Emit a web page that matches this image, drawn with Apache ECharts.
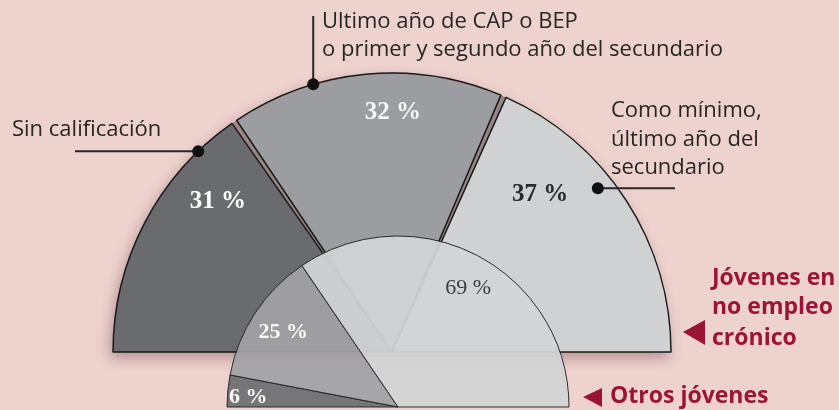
<!DOCTYPE html>
<html><head><meta charset="utf-8">
<script src="https://cdn.jsdelivr.net/npm/echarts@6/dist/echarts.min.js"></script>
<style>html,body{margin:0;padding:0;background:#eed2ce}#c{width:839px;height:410px}</style>
</head><body><div id="c"></div>
<script>
// ---- data ----
const categories = ['Sin calificación', 'Ultimo año de CAP o BEP o primer y segundo año del secundario', 'Como mínimo, último año del secundario'];
const chronicValues = [31, 32, 37];   // Jóvenes en no empleo crónico
const otherValues = [6, 25, 69];      // Otros jóvenes
const seriesNames = ['Jóvenes en no empleo crónico', 'Otros jóvenes'];
const legendLines = [['Jóvenes en', 'no empleo', 'crónico'], ['Otros jóvenes']];
const categoryLabelLines = [['Sin calificación'], ['Ultimo año de CAP o BEP', 'o primer y segundo año del secundario'], ['Como mínimo,', 'último año del', 'secundario']];

// ---- layout / style ----
const BG = '#eed2ce';
const OUT_C = [392, 352], OUT_R = 279;
const IN_C = [398, 407], IN_R = 171;
const outerColors = ['#6a6b6f', '#9c9da1', '#d0d1d3'];
const innerColors = ['#6e6f73', '#a1a2a5', '#d2d3d5'];
const outerLabelPolar = [[139.2, 230], [89.8, 239], [46.7, 216]];
const innerLabelPolar = [[176.2, 150], [146.9, 137], [59.5, 138]];
const outerLabelStyle = [
  {color: '#ffffff', fontWeight: 'bold', fontSize: 25},
  {color: '#f6f6f6', fontWeight: 'bold', fontSize: 25},
  {color: '#2a2a2a', fontWeight: 'bold', fontSize: 25}
];
const innerLabelStyle = [
  {color: '#ffffff', fontWeight: 'bold', fontSize: 22},
  {color: '#ffffff', fontWeight: 'bold', fontSize: 22},
  {color: '#333333', fontWeight: 'normal', fontSize: 22}
];
const PAD = 1.15;

function polar(c, deg, r) {
  const a = deg * Math.PI / 180;
  return [c[0] + r * Math.cos(a), c[1] - r * Math.sin(a)];
}

const chart = echarts.init(document.getElementById('c'), null, {renderer: 'canvas'});

const outerData = chronicValues.map((v, i) => ({
  name: categories[i], value: v,
  itemStyle: {color: outerColors[i]},
  label: Object.assign({}, outerLabelStyle[i])
}));
const innerData = otherValues.map((v, i) => ({
  name: categories[i], value: v,
  itemStyle: {color: innerColors[i]},
  label: Object.assign({}, innerLabelStyle[i])
}));

function labelLayoutFor(c, polarArr) {
  return function (p) {
    const pt = polar(c, polarArr[p.dataIndex][0], polarArr[p.dataIndex][1]);
    return {x: pt[0], y: pt[1], align: 'center', verticalAlign: 'middle'};
  };
}

// annotation dots (on outer arc, by angle)
const dotPolar = [[134, 279], [106.4, 279], [38.5, 263]];
const dots = dotPolar.map(d => polar(OUT_C, d[0], d[1]));

const ink = '#262626';
const sansFont = '"Open Sans", Lato, sans-serif';
const graphics = [];
// leader lines
graphics.push({type: 'line', shape: {x1: 75, y1: dots[0][1], x2: dots[0][0], y2: dots[0][1]}, style: {stroke: ink, lineWidth: 2}, z: 20});
graphics.push({type: 'line', shape: {x1: dots[1][0], y1: 16, x2: dots[1][0], y2: dots[1][1]}, style: {stroke: ink, lineWidth: 2}, z: 20});
graphics.push({type: 'line', shape: {x1: dots[2][0], y1: dots[2][1], x2: 675, y2: dots[2][1]}, style: {stroke: ink, lineWidth: 2}, z: 20});
dots.forEach(d => graphics.push({type: 'circle', shape: {cx: d[0], cy: d[1], r: 6}, style: {fill: '#111'}, z: 21}));
// category label texts
const catTextPos = [[12, [130]], [322, [22, 50]], [611, [111, 140, 168]]];
categoryLabelLines.forEach((lines, i) => {
  lines.forEach((t, j) => graphics.push({
    type: 'text', x: catTextPos[i][0], y: catTextPos[i][1][j], z: 22,
    style: {text: t, fill: ink, font: '22px ' + sansFont, textVerticalAlign: 'middle', textAlign: 'left'}
  }));
});
// legend
const legendRed = '#9a1438';
graphics.push({type: 'polygon', shape: {points: [[683, 332], [705, 320], [705, 345]]}, style: {fill: legendRed}, z: 22});
[278, 307, 338].forEach((y, j) => graphics.push({
  type: 'text', x: 712, y: y, z: 22,
  style: {text: legendLines[0][j], fill: legendRed, font: 'bold 23px ' + sansFont, textVerticalAlign: 'middle'}
}));
graphics.push({type: 'polygon', shape: {points: [[583, 397], [602, 388], [602, 407]]}, style: {fill: legendRed}, z: 22});
graphics.push({
  type: 'text', x: 610, y: 396, z: 22,
  style: {text: legendLines[1][0], fill: legendRed, font: 'bold 23px ' + sansFont, textVerticalAlign: 'middle'}
});

const option = {
  backgroundColor: BG,
  animation: false,
  textStyle: {fontFamily: '"Liberation Serif", "DejaVu Serif", serif'},
  graphic: graphics,
  series: [
    { // backdrop: brownish gap colour + drop shadow
      type: 'pie', silent: true, z: 1,
      center: OUT_C, radius: OUT_R, startAngle: 180, endAngle: 0,
      label: {show: false}, labelLine: {show: false},
      data: [{value: 1, itemStyle: {color: '#9a8585', shadowBlur: 14, shadowColor: 'rgba(60,20,20,0.35)', shadowOffsetX: -3, shadowOffsetY: 6}}]
    },
    {
      name: seriesNames[0], type: 'pie', z: 2,
      center: OUT_C, radius: OUT_R,
      startAngle: 180 + PAD / 2, endAngle: -PAD / 2, padAngle: PAD,
      clockwise: true, avoidLabelOverlap: false,
      emphasis: {disabled: true},
      itemStyle: {borderColor: '#1a1a1a', borderWidth: 1.5},
      label: {show: true, position: 'inside', formatter: p => p.value + ' %', fontFamily: '"Liberation Serif", serif'},
      labelLine: {show: false},
      labelLayout: labelLayoutFor(OUT_C, outerLabelPolar),
      data: outerData
    },
    {
      name: seriesNames[1], type: 'pie', z: 3,
      center: IN_C, radius: IN_R,
      startAngle: 180, endAngle: 0, clockwise: true, avoidLabelOverlap: false,
      emphasis: {disabled: true},
      itemStyle: {borderColor: '#222', borderWidth: 1, opacity: 0.94},
      label: {show: true, position: 'inside', formatter: p => p.value + ' %', fontFamily: '"Liberation Serif", serif'},
      labelLine: {show: false},
      labelLayout: labelLayoutFor(IN_C, innerLabelPolar),
      data: innerData
    }
  ]
};
chart.setOption(option);
</script>
</body></html>
